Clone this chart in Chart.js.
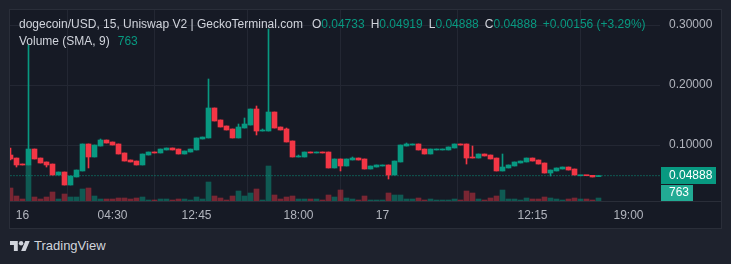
<!DOCTYPE html>
<html>
<head>
<meta charset="utf-8">
<script src="https://cdn.jsdelivr.net/npm/chart.js@4.4.0/dist/chart.umd.min.js"></script>
<style>
body{margin:0;width:731px;height:264px;overflow:hidden;background:#1e222d;position:relative;font-family:"Liberation Sans",Arial,sans-serif}
#frame{position:absolute;left:9px;top:9px;width:711px;height:218px;border:1px solid #2a2e39;background:#161a25}
#sep{position:absolute;left:0;top:191px;width:711px;height:1px;background:#2a2e39}
#wrap{position:absolute;left:0;top:0;width:711px;height:218px}
.leg{position:absolute;left:19px;font-size:12px;color:#d1d4dc;white-space:pre}
.g{color:#089981}
.s{margin-left:6px}
#brand{position:absolute;left:10px;top:238px;color:#d1d4dc;font-size:13px;display:flex;align-items:center}
#brand svg{margin-right:4px}
</style>
</head>
<body>
<div id="frame">
  <div id="wrap"><canvas id="c" width="711" height="218"></canvas></div>
  <div id="sep"></div>
</div>
<div class="leg" style="top:17px">dogecoin/USD, 15, Uniswap V2 | GeckoTerminal.com<span style="margin-left:9px">O<span class="g">0.04733</span></span><span class="s">H<span class="g">0.04919</span></span><span class="s">L<span class="g">0.04888</span></span><span class="s">C<span class="g">0.04888</span></span><span class="s g">+0.00156 (+3.29%)</span></div>
<div class="leg" style="top:34px">Volume (SMA, 9)<span class="g" style="margin-left:8px">763</span></div>
<div id="brand"><svg width="20" height="10" viewBox="0 4 36 18"><path fill="#d1d4dc" d="M14 22H7V11H0V4h14v18zM28 22h-8l7.5-18h8L28 22z"/><circle fill="#d1d4dc" cx="20" cy="8" r="4"/></svg>TradingView</div>
<script>
// 15 min candles
const opens  = [0.0833,0.0783,0.0683,0.0667,0.0933,0.0783,0.0717,0.0683,0.0500,0.0550,
                0.0333,0.0467,0.0567,0.1017,0.0800,0.0983,0.1083,0.1050,0.1017,0.0867,
                0.0750,0.0733,0.0667,0.0833,0.0883,0.0867,0.0917,0.0950,0.0933,0.0850,
                0.0883,0.0917,0.1100,0.1117,0.1617,0.1417,0.1317,0.1267,0.1117,0.1283,
                0.1333,0.1600,0.1233,0.1233,0.1550,0.1300,0.1267,0.1067,0.0800,0.0800,
                0.0883,0.0867,0.0883,0.0883,0.0617,0.0767,0.0650,0.0750,0.0783,0.0767,
                0.0600,0.0633,0.0650,0.0667,0.0500,0.0717,0.0983,0.1000,0.1017,0.0933,
                0.0850,0.0917,0.0917,0.0917,0.0950,0.1017,0.1017,0.0800,0.0783,0.0850,
                0.0833,0.0783,0.0567,0.0617,0.0650,0.0700,0.0717,0.0783,0.0750,0.0700,
                0.0533,0.0567,0.0600,0.0633,0.0600,0.0487,0.0490,0.0495,0.04733];
const highs  = [0.0950,0.0783,0.0683,0.2667,0.0933,0.0783,0.0717,0.0683,0.0550,0.0550,
                0.0483,0.0583,0.1017,0.1017,0.1000,0.1100,0.1083,0.1050,0.1017,0.0867,
                0.0750,0.0733,0.0850,0.0883,0.0883,0.0933,0.0950,0.0950,0.0933,0.0900,
                0.0933,0.1117,0.1133,0.2100,0.1617,0.1417,0.1317,0.1267,0.1350,0.1450,
                0.1600,0.1650,0.1267,0.2933,0.1550,0.1300,0.1283,0.1067,0.0833,0.0883,
                0.0883,0.0883,0.0883,0.0883,0.0767,0.0767,0.0767,0.0800,0.0783,0.0767,
                0.0650,0.0667,0.0667,0.0667,0.0733,0.1000,0.1033,0.1017,0.1017,0.0933,
                0.0933,0.0933,0.0933,0.0967,0.1017,0.1017,0.1017,0.0983,0.0850,0.0850,
                0.0833,0.0783,0.0850,0.0667,0.0717,0.0733,0.0783,0.0783,0.0750,0.0700,
                0.0583,0.0617,0.0633,0.0633,0.0600,0.0492,0.0492,0.0495,0.04919];
const lows   = [0.0750,0.0633,0.0667,0.0667,0.0767,0.0700,0.0633,0.0500,0.0500,0.0333,
                0.0333,0.0467,0.0567,0.0617,0.0800,0.0983,0.1033,0.1000,0.0850,0.0733,
                0.0717,0.0667,0.0667,0.0833,0.0867,0.0867,0.0917,0.0917,0.0850,0.0850,
                0.0883,0.0917,0.1100,0.1117,0.1400,0.1300,0.1250,0.1117,0.1117,0.1283,
                0.1333,0.1167,0.1233,0.1233,0.1283,0.1250,0.1050,0.0800,0.0800,0.0800,
                0.0867,0.0867,0.0867,0.0617,0.0617,0.0567,0.0650,0.0750,0.0750,0.0600,
                0.0600,0.0633,0.0650,0.0433,0.0500,0.0717,0.0983,0.1000,0.0917,0.0850,
                0.0850,0.0917,0.0917,0.0917,0.0950,0.1000,0.0683,0.0783,0.0783,0.0817,
                0.0767,0.0567,0.0567,0.0617,0.0650,0.0700,0.0717,0.0733,0.0683,0.0533,
                0.0483,0.0567,0.0600,0.0583,0.0500,0.0487,0.0488,0.0467,0.04733];
const closes = [0.0767,0.0667,0.0667,0.0933,0.0767,0.0700,0.0667,0.0500,0.0550,0.0333,
                0.0483,0.0583,0.1017,0.0800,0.1000,0.1083,0.1033,0.1000,0.0850,0.0733,
                0.0717,0.0667,0.0850,0.0883,0.0867,0.0933,0.0950,0.0917,0.0850,0.0900,
                0.0933,0.1117,0.1133,0.1617,0.1400,0.1300,0.1250,0.1117,0.1300,0.1350,
                0.1600,0.1233,0.1250,0.1550,0.1283,0.1250,0.1050,0.0800,0.0817,0.0883,
                0.0867,0.0883,0.0867,0.0617,0.0767,0.0650,0.0767,0.0783,0.0750,0.0600,
                0.0650,0.0667,0.0667,0.0500,0.0733,0.1000,0.1017,0.1017,0.0917,0.0850,
                0.0933,0.0933,0.0933,0.0967,0.1017,0.1000,0.0783,0.0783,0.0850,0.0817,
                0.0767,0.0567,0.0633,0.0667,0.0717,0.0733,0.0783,0.0733,0.0683,0.0533,
                0.0583,0.0617,0.0633,0.0583,0.0500,0.0490,0.0488,0.0467,0.04888];
const volumes = [4680,1800,720,12960,1440,720,1440,3240,720,2520,
                 1440,1440,4320,4680,1800,720,720,720,1080,1080,
                 720,1080,1440,360,360,720,720,360,720,720,
                 360,1440,720,6840,1800,1080,360,1800,3600,1800,
                 2880,4320,360,12600,2160,720,1440,1800,720,720,
                 720,720,360,2160,1440,3960,1080,720,360,1800,
                 360,360,360,2880,2160,2160,720,720,1080,360,
                 720,360,360,360,720,360,3600,2880,720,360,
                 1080,1800,3960,720,720,360,1080,720,720,1440,
                 1080,720,360,720,1080,720,720,360,1080];
const tickIdx  = [2, 17, 31, 48, 62, 87, 103];
const tickText = ['16', '04:30', '12:45', '18:00', '17', '12:15', '19:00'];
const lastPrice = 0.04888;
const volSma = '763';

const UP = '#089981', DOWN = '#f23645';
let idx = closes.map((c, i) => i);
let isUp = closes.map((c, i) => c >= opens[i]);
let candleColor = isUp.map(u => u ? UP : DOWN);
let volColor = isUp.map(u => u ? 'rgba(8,153,129,0.5)' : 'rgba(242,54,69,0.45)');
let volMax = Math.max(...volumes) * 191 / 36;

function noPad(s){
    s.paddingLeft = 0;
    s.paddingRight = 0;
    s.paddingTop = 0;
    s.paddingBottom = 0;
}

const priceTag = {
    id: 'priceTag',
    afterDraw(chart){
        const ctx = chart.ctx;
        const y = Math.round(chart.scales.y.getPixelForValue(lastPrice));
        const x = chart.chartArea.right + 1;
        ctx.save();
        ctx.fillStyle = UP;
        ctx.fillRect(x, y - 9, 55, 17);
        ctx.fillStyle = '#22ab94';
        ctx.fillRect(x, y + 9, 32, 16);
        ctx.fillStyle = '#ffffff';
        ctx.font = '12px "Liberation Sans", Arial, sans-serif';
        ctx.textBaseline = 'middle';
        ctx.fillText(lastPrice.toFixed(5), x + 8, y);
        ctx.fillText(volSma, x + 8, y + 17);
        ctx.restore();
    }
};

new Chart('c', {
    data: {
        datasets: [
            {
                type: 'bar',
                data: idx.map(i => ({x: i, y: [opens[i], closes[i]]})),
                backgroundColor: candleColor,
                barThickness: 5,
                minBarLength: 1,
                grouped: false,
                order: 0
            },
            {
                type: 'bar',
                data: idx.map(i => ({x: i, y: [lows[i], highs[i]]})),
                backgroundColor: candleColor,
                barThickness: 1,
                grouped: false,
                order: 1
            },
            {
                type: 'line',
                data: [{x: -1, y: lastPrice}, {x: 110, y: lastPrice}],
                borderColor: UP,
                borderWidth: 1,
                borderDash: [1, 2],
                pointRadius: 0,
                order: 2
            },
            {
                type: 'bar',
                yAxisID: 'yv',
                data: idx.map(i => ({x: i, y: volumes[i]})),
                backgroundColor: volColor,
                barThickness: 5,
                grouped: false,
                order: 3
            }
        ]
    },
    options: {
        responsive: false,
        animation: false,
        layout: {padding: 0},
        plugins: {legend: {display: false}, tooltip: {enabled: false}},
        scales: {
            x: {
                type: 'linear',
                offset: false,
                min: -0.0833,
                max: 108.25,
                afterBuildTicks: s => { s.ticks = tickIdx.map(v => ({value: v})); },
                afterFit: s => { s.height = 27; noPad(s); },
                grid: {color: '#232733', drawTicks: false},
                border: {display: false},
                ticks: {
                    autoSkip: false,
                    maxRotation: 0,
                    padding: 7,
                    color: '#b2b5be',
                    font: {size: 12, family: '"Liberation Sans", Arial, sans-serif'},
                    callback: v => tickText[tickIdx.indexOf(v)]
                }
            },
            y: {
                position: 'right',
                min: 0.0066667,
                max: 0.325,
                afterBuildTicks: s => { s.ticks = [0.1, 0.2, 0.3].map(v => ({value: v})); },
                afterFit: s => { s.width = 61; noPad(s); },
                grid: {color: '#232733', drawTicks: false},
                border: {display: false},
                ticks: {
                    padding: 9,
                    color: '#b2b5be',
                    font: {size: 12, family: '"Liberation Sans", Arial, sans-serif'},
                    callback: v => v.toFixed(5)
                }
            },
            yv: {
                display: false,
                min: 0,
                max: volMax
            }
        }
    },
    plugins: [priceTag]
});
</script>
</body>
</html>
